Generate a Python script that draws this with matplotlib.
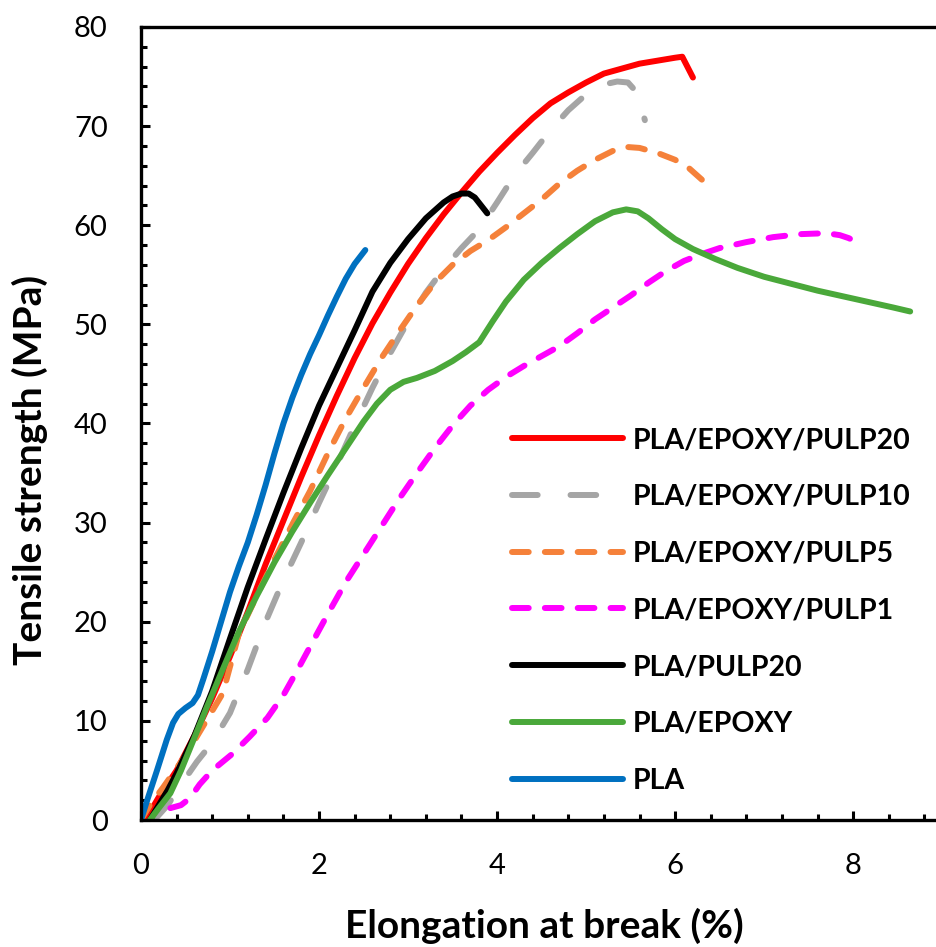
import matplotlib
matplotlib.use("Agg")
import matplotlib.pyplot as plt
from matplotlib.ticker import MultipleLocator

plt.rcParams['font.family'] = ['Lato', 'DejaVu Sans']

# tensile curves (elongation %, strength MPa)
pulp20_x = [0.05, 0.2, 0.4, 0.6, 0.8, 1.0, 1.2, 1.4, 1.6, 1.8, 2.0, 2.2, 2.4, 2.6, 2.8, 3.0, 3.2, 3.4,
            3.6, 3.8, 4.0, 4.2, 4.4, 4.6, 4.8, 5.0, 5.2, 5.4, 5.6, 5.8, 6.0, 6.08, 6.2]
pulp20_y = [0, 2.3, 5, 8.5, 12.3, 16.5, 21, 25.8, 30.2, 34.6, 38.8, 42.8, 46.6, 50.1, 53.2, 56.1, 58.7, 61.1,
            63.3, 65.4, 67.3, 69.1, 70.8, 72.3, 73.4, 74.4, 75.3, 75.8, 76.3, 76.6, 76.9, 77.0, 74.9]

pulp10_x = [0.15, 0.3, 0.46, 0.63, 0.8, 1.0, 1.2, 1.4, 1.6, 1.8, 2.0, 2.2, 2.4, 2.6, 2.8, 3.0, 3.2, 3.4,
            3.6, 3.8, 4.0, 4.2, 4.4, 4.6, 4.8, 5.0, 5.2, 5.35, 5.47, 5.55, 5.6, 5.66]
pulp10_y = [0, 1.5, 3.7, 5.9, 7.8, 10.8, 15.2, 20, 24.2, 28, 32, 35.8, 39.8, 43.6, 47.1, 50.3, 53.2, 55.6,
            57.7, 59.6, 62.3, 65.1, 67.3, 69.6, 71.6, 73.2, 74.2, 74.5, 74.4, 73.6, 72.5, 70.6]

pulp5_x = [0, 0.1, 0.25, 0.5, 0.7, 0.92, 1.1, 1.3, 1.5, 1.71, 1.9, 2.1, 2.3, 2.5, 2.7, 2.9, 3.1, 3.3,
           3.5, 3.7, 3.9, 4.1, 4.3, 4.5, 4.7, 4.9, 5.1, 5.3, 5.45, 5.6, 5.8, 6.0, 6.15, 6.3]
pulp5_y = [0, 1.5, 3.3, 6.5, 9.5, 12.8, 18.8, 22.6, 26.3, 30, 33.2, 37, 40.5, 43.6, 46.6, 49.3, 51.9, 54.2,
           56, 57.4, 58.5, 59.8, 61.2, 62.6, 64.2, 65.5, 66.6, 67.5, 67.9, 67.8, 67.3, 66.6, 65.8, 64.6]

pulp1_x = [0.33, 0.45, 0.55, 0.66, 0.8, 1.03, 1.22, 1.42, 1.6, 1.75, 1.9, 2.1, 2.3, 2.5, 2.7, 2.9, 3.1,
           3.3, 3.5, 3.7, 3.9, 4.1, 4.3, 4.5, 4.7, 4.9, 5.1, 5.3, 5.5, 5.7, 5.9, 6.1, 6.3, 6.5, 6.8,
           7.1, 7.4, 7.7, 7.85, 7.95, 8.04]
pulp1_y = [1.2, 1.5, 2.2, 3.6, 5, 6.7, 8.4, 10.3, 12.6, 15, 17.5, 20.8, 24, 26.8, 29.6, 32.4, 35,
           37.5, 39.8, 41.8, 43.4, 44.7, 45.8, 46.8, 47.8, 49.1, 50.5, 51.7, 52.9, 54.2, 55.4, 56.4, 57.1, 57.7, 58.3,
           58.8, 59.1, 59.2, 59.0, 58.7, 58.3]

pla_pulp20_x = [0.1, 0.2, 0.3, 0.4, 0.6, 0.8, 1.0, 1.2, 1.4, 1.6, 1.8, 2.0, 2.2, 2.4, 2.6, 2.8, 3.0,
                3.2, 3.4, 3.5, 3.6, 3.68, 3.75, 3.82, 3.89]
pla_pulp20_y = [0, 1.5, 3, 4.7, 8.5, 13, 18.3, 23.5, 28.3, 33, 37.5, 41.8, 45.6, 49.4, 53.3, 56.2, 58.6,
                60.7, 62.3, 62.9, 63.2, 63.2, 62.8, 62.0, 61.2]

epoxy_x = [0.1, 0.2, 0.33, 0.45, 0.6, 0.74, 0.9, 1.1, 1.3, 1.5, 1.7, 1.9, 2.1, 2.3, 2.5, 2.65, 2.8,
           2.95, 3.1, 3.3, 3.5, 3.65, 3.8, 3.95, 4.1, 4.3, 4.5, 4.7, 4.9, 5.1, 5.3, 5.45, 5.58, 5.7,
           5.85, 6.0, 6.2, 6.45, 6.7, 7.0, 7.3, 7.6, 7.9, 8.2, 8.45, 8.64]
epoxy_y = [0, 1.2, 2.7, 5, 8.3, 11.4, 14.8, 19, 22.6, 26, 29.1, 32, 34.8, 37.5, 40.2, 42, 43.4,
           44.2, 44.6, 45.3, 46.3, 47.2, 48.2, 50.3, 52.3, 54.5, 56.2, 57.7, 59.1, 60.4, 61.3, 61.6, 61.4, 60.7,
           59.6, 58.6, 57.6, 56.6, 55.7, 54.8, 54.1, 53.4, 52.8, 52.2, 51.7, 51.3]

pla_x = [0, 0.07, 0.18, 0.29, 0.36, 0.42, 0.5, 0.58, 0.64, 0.7, 0.8, 0.9, 1.0, 1.1, 1.2, 1.3, 1.4,
         1.5, 1.6, 1.7, 1.8, 1.9, 2.0, 2.1, 2.2, 2.3, 2.4, 2.52]
pla_y = [0, 2, 5, 8.1, 9.8, 10.7, 11.3, 11.8, 12.6, 14.2, 17, 20, 23, 25.6, 28, 30.8, 33.8,
         37, 40, 42.6, 44.9, 47, 48.9, 50.9, 52.8, 54.6, 56.1, 57.5]

labels = ['PLA/EPOXY/PULP20', 'PLA/EPOXY/PULP10', 'PLA/EPOXY/PULP5',
          'PLA/EPOXY/PULP1', 'PLA/PULP20', 'PLA/EPOXY', 'PLA']

fig = plt.figure(figsize=(9.36, 9.47), dpi=100)
ax = fig.add_axes([0.1506, 0.1341, 0.8494, 0.8374])

lw = 4.3
kw = dict(lw=lw, solid_capstyle='round', dash_capstyle='round', solid_joinstyle='round')
ax.plot(pulp20_x, pulp20_y, color='#ff0000', label=labels[0], **kw)
ax.plot(pulp10_x, pulp10_y, color='#a5a5a5', dashes=(4.3, 5.5), label=labels[1], **kw)
ax.plot(pulp5_x, pulp5_y, color='#f5813a', dashes=(2.8, 2.7), label=labels[2], **kw)
ax.plot(pulp1_x, pulp1_y, color='#ff00ff', dashes=(2.8, 2.7), label=labels[3], **kw)
ax.plot(pla_pulp20_x, pla_pulp20_y, color='black', label=labels[4], **kw)
ax.plot(epoxy_x, epoxy_y, color='#4aa83a', label=labels[5], **kw)
ax.plot(pla_x, pla_y, color='#0070c0', label=labels[6], **kw)

ax.set_xlim(0, 8.93)
ax.set_ylim(0, 80)
ax.xaxis.set_major_locator(MultipleLocator(2))
ax.xaxis.set_minor_locator(MultipleLocator(0.4))
ax.yaxis.set_major_locator(MultipleLocator(10))
ax.yaxis.set_minor_locator(MultipleLocator(2))

for s in ['left', 'bottom', 'top']:
    ax.spines[s].set_linewidth(2.4)
ax.spines['right'].set_visible(False)
ax.tick_params(which='both', direction='in', width=2.2, top=False, right=False)
ax.tick_params(which='major', length=6.5, labelsize=21, pad=24)
ax.tick_params(which='minor', length=4.3)

ax.set_xlabel('Elongation at break (%)', fontsize=28, fontweight='bold')
ax.set_ylabel('Tensile strength (MPa)', fontsize=28, fontweight='bold')
ax.xaxis.set_label_coords(0.508, -0.111)
ax.yaxis.set_label_coords(-0.117, 0.441)

ax.legend(loc='upper left', bbox_to_anchor=(0.547, 0.549), bbox_transform=fig.transFigure,
          frameon=False, prop={'size': 20.5, 'weight': 'bold'}, handlelength=3.9,
          handletextpad=0.35, labelspacing=1.08, borderpad=0, borderaxespad=0)

fig.savefig('out.png', dpi=100)
